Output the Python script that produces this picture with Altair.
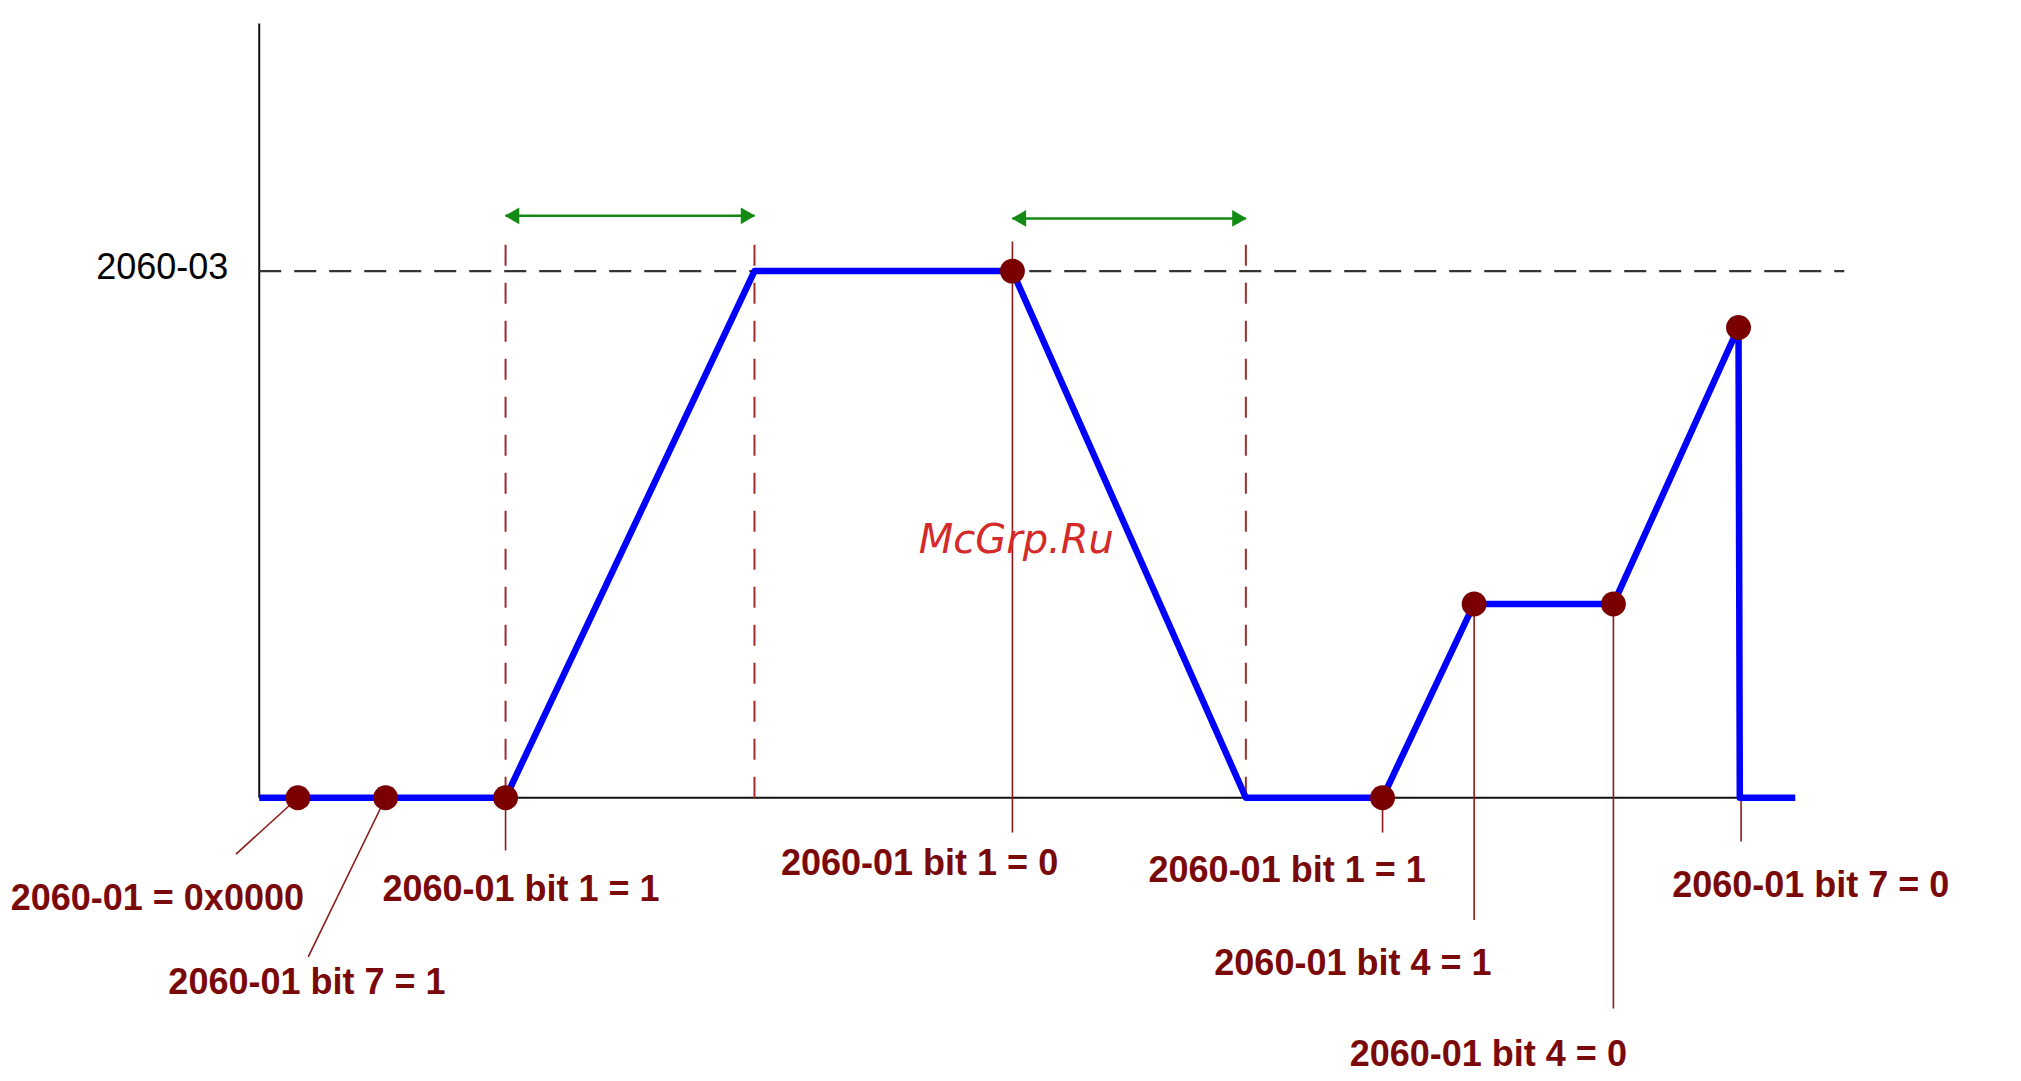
import altair as alt
import pandas as pd

# ---------------- data (time t in ms, speed v in % of 2060-03) ----------------
prof_t = [0, 191, 384, 584, 765, 871, 942, 1050, 1147, 1148, 1191]
prof_v = [0, 0, 100, 100, 0, 0, 36.8, 36.8, 89.3, 0, 0]

ev_t = [30, 98, 191, 584, 871, 942, 1050, 1147]
ev_v = [0, 0, 0, 100, 0, 36.8, 36.8, 89.3]

labels = ["2060-01 = 0x0000", "2060-01 bit 7 = 1", "2060-01 bit 1 = 1",
          "2060-01 bit 1 = 0", "2060-01 bit 1 = 1", "2060-01 bit 4 = 1",
          "2060-01 bit 4 = 0", "2060-01 bit 7 = 0"]
label_t = [-79, 37, 203, 512, 797, 848, 953, 1203]
label_v = [-19.3, -35.1, -17.6, -12.5, -13.9, -31.5, -48.8, -16.8]

lead_t1 = [30, 98, 191, 584, 871, 942, 1050, 1149]
lead_v1 = [0, 0, 0, 105.6, 0, 36.8, 36.8, 0]
lead_t2 = [-18, 38, 191, 584, 871, 942, 1050, 1149]
lead_v2 = [-10.7, -30.2, -10.0, -6.6, -6.6, -23.2, -40.0, -8.3]

dash_t = [191, 384, 765]
dash_top = [105.1, 106.5, 107.0]

arr_t1 = [191, 584]
arr_t2 = [384, 765]
arr_v = [110.5, 110.0]

ref_level = 100
ref_label = "2060-03"
ref_end = 1229
axis_t_end = 1189
axis_v_top = 147.0

watermark = "McGrp.Ru"
wm_t, wm_v = 587, 48.8

# ---------------- layout ----------------
W, H = 2005, 1065
PX_T = 1.2955 / 1.0045
PX_V = 4.1 * 1.2955
X0 = 260.4 / 1.0045 - 8
Y0 = 804.5 - 8
xdom = [-X0 / PX_T, (W - X0) / PX_T]
ydom = [-(H - Y0) / PX_V, Y0 / PX_V]
xs = alt.Scale(domain=xdom, nice=False, zero=False)
ys = alt.Scale(domain=ydom, nice=False, zero=False)

def X(f="t"):
    return alt.X(f"{f}:Q", scale=xs, axis=None)

def Y(f="v"):
    return alt.Y(f"{f}:Q", scale=ys, axis=None)

prof = pd.DataFrame({"t": prof_t, "v": prof_v, "o": range(len(prof_t))})
ev = pd.DataFrame({"t": ev_t, "v": ev_v})
lab = pd.DataFrame({"t": label_t, "v": label_v, "txt": labels})
lead = pd.DataFrame({"t": lead_t1, "v": lead_v1, "t2": lead_t2, "v2": lead_v2})
dash = pd.DataFrame({"t": dash_t, "v": [0] * len(dash_t), "v2": dash_top})
arr = pd.DataFrame({"t": arr_t1, "t2": arr_t2, "v": arr_v})
heads = pd.DataFrame({"t": [a + 5 for a in arr_t1] + [b - 5 for b in arr_t2],
                      "v": arr_v + arr_v,
                      "dir": ["L"] * len(arr_t1) + ["R"] * len(arr_t2)})
axes = pd.DataFrame({"t": [0, 0], "v": [0, 0], "t2": [0, axis_t_end], "v2": [axis_v_top, 0]})
ref = pd.DataFrame({"t": [0], "t2": [ref_end], "v": [ref_level]})

axis_layer = alt.Chart(axes).mark_rule(color="#111111", strokeWidth=2).encode(
    x=X(), y=Y(), x2="t2:Q", y2="v2:Q")
ref_layer = alt.Chart(ref).mark_rule(color="#333333", strokeWidth=2.2, strokeDash=[22, 13]).encode(
    x=X(), x2="t2:Q", y=Y())
ref_text = alt.Chart(pd.DataFrame({"t": [-24], "v": [100.6], "txt": [ref_label]})).mark_text(
    align="right", baseline="middle", font="Liberation Sans", fontSize=36, color="#000000").encode(
    x=X(), y=Y(), text="txt:N")
dash_layer = alt.Chart(dash).mark_rule(color="#a02c2c", strokeWidth=2, strokeDash=[21, 17]).encode(
    x=X(), y=Y(), y2="v2:Q")
lead_layer = alt.Chart(lead).mark_rule(color="#8b1a1a", strokeWidth=1.6).encode(
    x=X(), y=Y(), x2="t2:Q", y2="v2:Q")
arrow_layer = alt.Chart(arr).mark_rule(color="#138a13", strokeWidth=2.6).encode(
    x=X(), x2="t2:Q", y=Y())
head_layer = alt.Chart(heads).mark_point(filled=True, opacity=1, size=280, strokeWidth=0).encode(
    x=X(), y=Y(),
    shape=alt.Shape("dir:N", scale=alt.Scale(domain=["L", "R"], range=["triangle-left", "triangle-right"]), legend=None),
    color=alt.value("#138a13"))
line_layer = alt.Chart(prof).mark_line(color="#0000ff", strokeWidth=6.5, strokeJoin="round").encode(
    x=X(), y=Y(), order="o:Q")
dot_layer = alt.Chart(ev).mark_point(filled=True, opacity=1, size=620, color="#7a0000", shape="circle").encode(
    x=X(), y=Y())
text_layer = alt.Chart(lab).mark_text(align="center", baseline="middle", font="Liberation Sans",
                                      fontSize=36, fontWeight="bold", color="#7a0a0a").encode(
    x=X(), y=Y(), text="txt:N")
wm_layer = alt.Chart(pd.DataFrame({"t": [wm_t], "v": [wm_v], "txt": [watermark]})).mark_text(
    align="center", baseline="middle", font="DejaVu Sans", fontSize=40, fontStyle="italic",
    color="#d42a2a").encode(x=X(), y=Y(), text="txt:N")

chart = alt.layer(axis_layer, ref_layer, ref_text, dash_layer, lead_layer, arrow_layer, head_layer,
                  line_layer, dot_layer, text_layer, wm_layer).properties(
    width=W, height=H, padding=0,
    autosize=alt.AutoSizeParams(type="fit", contains="padding"),
    background="white",
).configure_view(stroke=None)

chart.save("out.html", embed_options={"renderer": "svg", "actions": False})
